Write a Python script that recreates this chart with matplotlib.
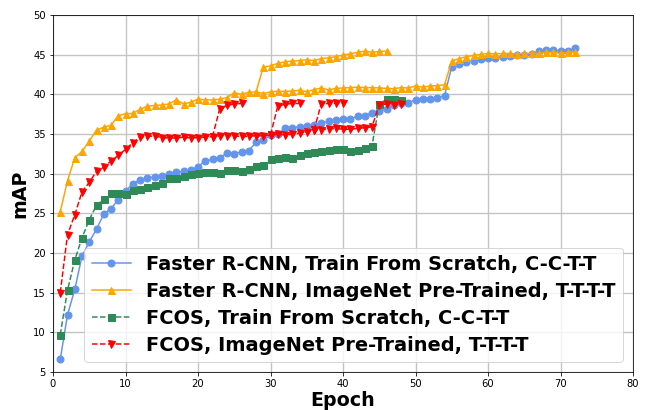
import numpy as np
import matplotlib
matplotlib.use("Agg")
import matplotlib.pyplot as plt

# Faster R-CNN, train from scratch (epochs 1..72)
frcnn_scratch = [6.6, 12.2, 15.4, 19.6, 21.4, 23.0, 24.9, 25.6, 26.7, 27.8,
                 28.7, 29.2, 29.5, 29.6, 29.7, 29.95, 30.15, 30.3, 30.4, 30.9,
                 31.6, 31.8, 32.0, 32.6, 32.5, 32.75, 32.9, 33.95, 34.2, 34.85,
                 35.0, 35.7, 35.8, 35.9, 36.0, 36.15, 36.4, 36.6, 36.8, 36.9,
                 36.9, 37.25, 37.3, 37.7, 37.9, 38.1, 38.7, 38.9, 38.95, 39.3,
                 39.45, 39.4, 39.6, 39.8, 43.5, 43.8, 44.1, 44.2, 44.45, 44.6,
                 44.6, 44.75, 44.85, 44.95, 44.95, 45.05, 45.45, 45.55, 45.55, 45.5,
                 45.5, 45.8]

# Faster R-CNN, ImageNet pre-trained (epochs 1..72) + branch from epoch 28
frcnn_imnet = [25.2, 29.1, 32.0, 32.8, 34.1, 35.5, 35.85, 36.1, 37.3, 37.55,
               37.6, 38.1, 38.5, 38.6, 38.65, 38.8, 39.3, 38.8, 39.0, 39.4,
               39.3, 39.3, 39.4, 39.6, 40.2, 40.0, 40.25, 40.3, 40.1, 40.3,
               40.4, 40.35, 40.45, 40.5, 40.35, 40.6, 40.8, 40.55, 40.75, 40.8,
               40.85, 40.9, 40.85, 40.85, 40.8, 40.75, 40.7, 40.85, 40.8, 41.05,
               40.9, 41.05, 41.1, 41.2, 44.2, 44.5, 44.75, 44.9, 45.05, 45.15,
               45.1, 45.15, 45.15, 45.1, 45.15, 45.2, 45.15, 45.3, 45.3, 45.15,
               45.3, 45.3]
frcnn_imnet_b = [40.3, 43.4, 43.6, 43.9, 44.1, 44.2, 44.25, 44.35, 44.25, 44.5,
                 44.6, 44.75, 44.95, 45.1, 45.3, 45.45, 45.3, 45.4, 45.45]

# FCOS, train from scratch (epochs 1..48)
fcos_scratch = [9.7, 15.3, 19.1, 21.9, 24.2, 26.0, 26.8, 27.55, 27.6, 27.4,
                27.9, 28.1, 28.35, 28.6, 28.8, 29.4, 29.5, 29.7, 29.95, 30.05,
                30.15, 30.25, 30.1, 30.45, 30.45, 30.3, 30.6, 30.95, 31.1, 31.8,
                32.0, 32.1, 32.0, 32.3, 32.55, 32.7, 32.85, 32.95, 33.05, 33.1,
                32.9, 33.0, 33.2, 33.5, 38.8, 39.35, 39.35, 39.3]

# FCOS, ImageNet pre-trained (epochs 1..48) + three short branches
fcos_imnet = [15.0, 22.3, 24.8, 27.7, 28.9, 30.3, 30.8, 31.6, 32.3, 33.06,
              33.9, 34.6, 34.7, 34.75, 34.55, 34.5, 34.5, 34.6, 34.5, 34.55,
              34.6, 34.66, 34.75, 34.8, 34.75, 34.7, 34.7, 34.8, 34.75, 34.87,
              34.95, 34.9, 34.95, 35.1, 35.3, 35.5, 35.55, 35.65, 35.7, 35.6,
              35.6, 35.7, 35.8, 35.9, 38.7, 38.75, 38.7, 38.75]
fcos_branch_start = [22, 30, 36]
fcos_branches = [[34.66, 38.2, 38.6, 38.8, 38.85],
                 [34.87, 38.5, 38.75, 38.85, 38.85],
                 [35.5, 38.8, 38.85, 38.85, 38.9]]

labels = ["Faster R-CNN, Train From Scratch, C-C-T-T",
          "Faster R-CNN, ImageNet Pre-Trained, T-T-T-T",
          "FCOS, Train From Scratch, C-C-T-T",
          "FCOS, ImageNet Pre-Trained, T-T-T-T"]

fig = plt.figure(figsize=(646/72, 410/72), dpi=72)
ax = fig.add_subplot(111)
fig.subplots_adjust(left=53/646, right=633/646, top=1-15/410, bottom=1-372/410)

ms = 7
ep = np.arange(1, len(frcnn_scratch)+1)
ax.plot(ep, frcnn_scratch, '-o', color='cornflowerblue', ms=ms, lw=1.5, label=labels[0])

ep = np.arange(1, len(frcnn_imnet)+1)
ax.plot(ep, frcnn_imnet, '-^', color='orange', ms=ms, lw=1.5, label=labels[1])
ep = np.arange(28, 28+len(frcnn_imnet_b))
ax.plot(ep, frcnn_imnet_b, '-^', color='orange', ms=ms, lw=1.5)

ep = np.arange(1, len(fcos_scratch)+1)
ax.plot(ep, fcos_scratch, '--s', color='seagreen', ms=ms, lw=1.5, label=labels[2])

ep = np.arange(1, len(fcos_imnet)+1)
ax.plot(ep, fcos_imnet, '--v', color='red', ms=ms, lw=1.5, label=labels[3])
for s, b in zip(fcos_branch_start, fcos_branches):
    ax.plot(np.arange(s, s+len(b)), b, '--v', color='red', ms=ms, lw=1.5)

ax.set_xlim(0, 80)
ax.set_ylim(5, 50)
ax.set_xticks(np.arange(0, 81, 10))
ax.set_yticks(np.arange(5, 51, 5))
ax.tick_params(labelsize=10)
ax.grid(True, color='#c4c4c4', lw=1.4)
ax.set_axisbelow(True)
ax.set_xlabel("Epoch", fontsize=19, fontweight='bold', labelpad=2)
ax.set_ylabel("mAP", fontsize=19, fontweight='bold')
ax.legend(loc='lower right', prop={'size': 19.4, 'weight': 'bold'},
          labelspacing=0.4)

fig.savefig("out.png", dpi=72)
